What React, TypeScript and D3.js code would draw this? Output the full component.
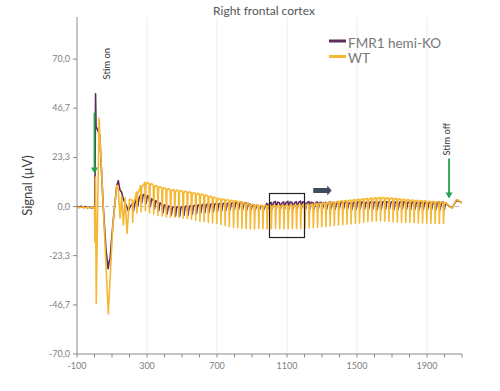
import React from "react";
import * as d3 from "d3";

// series names (legend order)
const seriesNames = ["FMR1 hemi-KO", "WT"];
const seriesColors = ["#5f2b5c", "#f6b733"];

// axis ticks
const yTicks = [-70, -46.7, -23.3, 0, 23.3, 46.7, 70];
const xLabels = [-100, 300, 700, 1100, 1500, 1900];

// evoked response before the steady 40Hz-ish train, [ms, µV]
const wtEarly: [number, number][] = [
  [-100, -0.3], [-85, -0.5], [-70, -0.2], [-55, -0.6], [-40, -0.3], [-25, -0.7],
  [-10, -0.4], [0, -0.5], [3, -17], [6, 14], [10, -46], [26, 42], [79, -51],
  [104, -10], [127, 10], [135, 9.5], [146, -5.5], [155, 5], [165, -8.7],
  [175, 4], [186, -12.8], [200, 3.5],
];
const fmrEarly: [number, number][] = [
  [-100, 0], [-88, -0.4], [-76, 0.2], [-64, -0.5], [-52, 0], [-40, -0.6],
  [-28, -0.2], [-16, -0.7], [-5, -0.3], [2, -0.5], [6, 53.5], [9, 38],
  [30, 34], [50, 0], [66, -20.8], [78, -29.5], [84, -26], [89, -24.8],
  [98, -15.3], [108, -5.8], [127, 10], [136, 12.3], [145, 8], [155, 6.8],
  [165, 3.5], [174, 1.9], [184, 0], [193, -2], [205, 0],
];

// steady-state train, one value per stimulus cycle
const trainStart = 216;
const trainPeriod = 24;
const wtTop = [
  3, 7, 10, 11.5, 11, 10, 9.5, 9, 8.5, 8,
  7.8, 7.6, 7.3, 7, 6.6, 6.3, 6, 5.5, 5, 4.5,
  4, 3.6, 3.3, 3, 2.8, 2.4, 2, 1.5, 1, 0.8,
  0.6, 0.5, 0.5, 0.5, 0.5, 0.5, 0.5, 0.5, 0.6, 0.7,
  0.8, 1, 1, 1.2, 1.4, 1.6, 1.8, 2, 2.2, 2.5,
  2.7, 2.9, 3.1, 3.3, 3.5, 3.7, 3.8, 4, 4.2, 4.3,
  4.2, 4, 3.9, 3.7, 3.5, 3.3, 3.1, 3, 2.8, 2.7,
  2.5, 2.4, 2.3, 2.2, 2,
];
const wtBottom = [
  -7.5, -3, -2.5, -2, -3, -3.5, -4.3, -4.5, -5, -5,
  -5, -5.2, -5.5, -5.7, -6, -6.5, -7, -7.2, -7.5, -7.8,
  -8, -8.5, -9, -9.5, -10, -10, -10.3, -10.5, -10.5, -10.6,
  -10.4, -10.5, -10.6, -10.5, -10.4, -10.5, -10.6, -10.5, -10.5, -10.4,
  -10.5, -10.4, -10.2, -10, -9.8, -9.6, -9.4, -9.2, -9, -8.8,
  -8.6, -8.4, -8.2, -8, -7.8, -7.5, -7.2, -7, -6.8, -6.8,
  -7, -7, -7.2, -7.3, -7.5, -7.6, -7.6, -7.7, -7.8, -7.8,
  -8, -8, -8, -8, -8,
];
const fmrTop = [
  1.5, 4, 6, 5.5, 4, 3, 2, 1, 0.5, 0,
  0, 0, 0.2, 0.4, 0.6, 0.8, 1, 1.2, 1.3, 1.4,
  1.5, 1.6, 1.7, 1.8, 1.9, 2, 2, 1.8, 1.2, 0.8,
  0.5, 0.3, 1.5, 2, 2.4, 1.8, 2.2, 2.5, 1.9, 2.3,
  2.6, 2, 2.4, 1.8, 2.2, 2, 2, 2.2, 1.8, 2.1,
  2.3, 1.9, 2, 2.2, 2.4, 2, 2.3, 2.5, 2.2, 2.4,
  2.6, 2.3, 2.5, 2.2, 2.4, 2.1, 2.3, 2, 2.2, 2.1,
  1.9, 2.2, 2, 2.3, 2.1,
];
const fmrBottom = [
  -2, 0, 2, 1.5, 0, -1, -2, -3, -3.5, -4,
  -4.5, -4.5, -4.2, -4, -3.6, -3.3, -3, -2.8, -2.6, -2.4,
  -2.2, -2, -1.8, -1.6, -1.5, -1.5, -1.5, -1.5, -1.5, -1.5,
  -1.5, -1.5, -1, -1, -1, -1, -1, -1, -1, -1,
  -1, -1, -1, -1, -1, -1, -1.2, -1, -1.3, -1.1,
  -1.2, -1, -1.4, -1.2, -1, -1.3, -1.1, -1.2, -1.5, -1.2,
  -1.3, -1, -1.4, -1.2, -1.1, -1.3, -1.5, -1.2, -1.4, -1.3,
  -1.5, -1.2, -1.4, -1.5, -1.5,
];

// after stim off
const wtTail: [number, number][] = [
  [2010, 1.5], [2025, 0.5], [2040, -0.8], [2052, 0.5], [2065, 3], [2078, 3.2], [2090, 2], [2100, 2],
];
const fmrTail: [number, number][] = [
  [2014, 1], [2030, 0], [2045, -0.5], [2058, 1.5], [2070, 3], [2082, 2.5], [2095, 2], [2100, 2],
];

const W = 500;
const H = 391;
const font = "Lato, 'Open Sans', sans-serif";

const x = d3.scaleLinear().domain([-100, 2100]).range([77, 462]);
const y = d3.scaleLinear().domain([-70, 90]).range([354, 17]);

const buildWt = () => {
  const pts: [number, number][] = [...wtEarly];
  wtTop.forEach((top, k) => {
    const t = trainStart + k * trainPeriod;
    pts.push([t, top], [t + 2.5, wtBottom[k]], [t + 6, top - 1], [t + 13, top]);
  });
  return pts.concat(wtTail);
};

const buildFmr = () => {
  const pts: [number, number][] = [...fmrEarly];
  fmrTop.forEach((top, k) => {
    const t = trainStart + k * trainPeriod;
    pts.push([t + 1, top], [t + 7, fmrBottom[k]], [t + 14, top - 0.3]);
  });
  return pts.concat(fmrTail);
};

const line = d3
  .line<[number, number]>()
  .x((d) => x(d[0]))
  .y((d) => y(d[1]));

const fmtTick = (v: number) => d3.format(".1f")(v).replace(".", ",").replace("−", "-");

const GreenArrow = ({ t, v1, v2 }: { t: number; v1: number; v2: number }) => {
  const px = x(t);
  const top = y(v1);
  const tip = y(v2);
  return (
    <g>
      <line x1={px} x2={px} y1={top} y2={tip - 5} stroke="#1ea24c" strokeWidth={1.8} />
      <path d={`M${px - 3.5},${tip - 6} L${px + 3.5},${tip - 6} L${px},${tip} Z`} fill="#1ea24c" />
    </g>
  );
};

const App = () => {
  const wt = buildWt();
  const fmr = buildFmr();
  const xMinor = d3.range(-100, 2101, 100);

  const ax0 = x(1250);
  const ax1 = x(1330);
  const ax2 = x(1355);
  const ay = y(7.6);

  return (
    <svg
      width={W}
      height={H}
      style={{ position: "absolute", left: 0, top: 0, background: "#fff" }}
      fontFamily={font}
    >
      {/* title */}
      <text x={264} y={15} textAnchor="middle" fontSize={12} fill="#555">
        Right frontal cortex
      </text>

      {/* grid */}
      {xLabels.slice(1).map((v) => (
        <line key={v} x1={x(v)} x2={x(v)} y1={y(90)} y2={y(-70)} stroke="#ececec" strokeWidth={1} />
      ))}
      <line x1={x(-100)} x2={x(2100)} y1={y(0)} y2={y(0)} stroke="#b5b5b5" strokeDasharray="4,3" strokeWidth={1} />

      {/* y axis */}
      <line x1={x(-100)} x2={x(-100)} y1={y(90)} y2={y(-70)} stroke="#8a8a8a" strokeWidth={1} />
      {yTicks.map((v) => (
        <g key={v}>
          <line x1={x(-100) - 4} x2={x(-100)} y1={y(v)} y2={y(v)} stroke="#8a8a8a" />
          <text x={x(-100) - 7} y={y(v) + 3} textAnchor="end" fontSize={9} fill="#808080">
            {fmtTick(v)}
          </text>
        </g>
      ))}
      <text
        transform={`translate(32,${(y(90) + y(-70)) / 2}) rotate(-90)`}
        textAnchor="middle"
        fontSize={13}
        fill="#444"
      >
        Signal (μV)
      </text>

      {/* x axis */}
      <line x1={x(-100)} x2={x(2100)} y1={y(-70)} y2={y(-70)} stroke="#8a8a8a" strokeWidth={1} />
      {xMinor.map((v) => (
        <line key={v} x1={x(v)} x2={x(v)} y1={y(-70)} y2={y(-70) + 3.5} stroke="#8a8a8a" />
      ))}
      {xLabels.map((v) => (
        <text key={v} x={x(v)} y={y(-70) + 15} textAnchor="middle" fontSize={9} fill="#808080">
          {v}
        </text>
      ))}

      {/* signals */}
      <path d={line(fmr) || ""} fill="none" stroke={seriesColors[0]} strokeWidth={1.6} strokeLinejoin="round" />
      <path d={line(wt) || ""} fill="none" stroke={seriesColors[1]} strokeWidth={1.6} strokeLinejoin="round" />

      {/* annotations */}
      <GreenArrow t={0} v1={44.6} v2={15.7} />
      <GreenArrow t={2026} v1={22.8} v2={3.8} />
      <text transform={`translate(${x(86)},${y(60.3)}) rotate(-90)`} fontSize={9.5} fill="#333">
        Stim on
      </text>
      <text transform={`translate(${x(2034)},${y(24.2)}) rotate(-90)`} fontSize={9.5} fill="#333">
        Stim off
      </text>
      <rect
        x={x(1000)}
        y={y(6.2)}
        width={x(1200) - x(1000)}
        height={y(-14.7) - y(6.2)}
        fill="none"
        stroke="#222"
        strokeWidth={1.2}
      />
      <path
        d={`M${ax0},${ay - 2.5} L${ax1},${ay - 2.5} L${ax1},${ay - 5} L${ax2},${ay} L${ax1},${ay + 5} L${ax1},${ay + 2.5} L${ax0},${ay + 2.5} Z`}
        fill="#3f4b5e"
      />

      {/* legend */}
      {seriesNames.map((name, i) => (
        <g key={name} transform={`translate(329,${41 + i * 15.5})`}>
          <line x1={0} x2={17} y1={0} y2={0} stroke={seriesColors[i]} strokeWidth={3} />
          <text x={19} y={6.5} fontSize={13.5} fill="#777">
            {name}
          </text>
        </g>
      ))}
    </svg>
  );
};

export default App;
